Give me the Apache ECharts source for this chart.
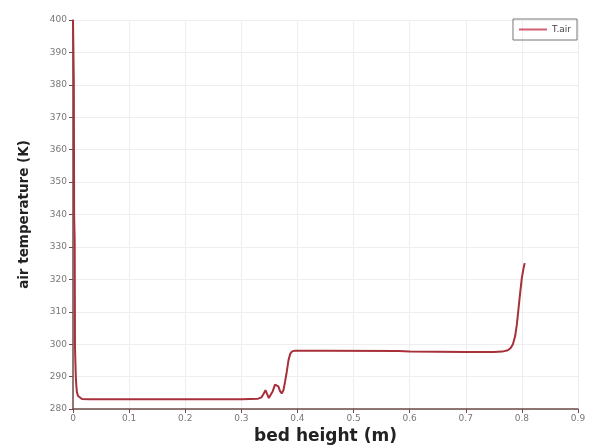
<!DOCTYPE html>
<html><head><meta charset="utf-8">
<script src="https://cdn.jsdelivr.net/npm/echarts@6/dist/echarts.min.js"></script>
<style>html,body{margin:0;padding:0;background:#fff}#c{width:592px;height:445px}</style>
</head><body><div id="c"></div>
<script>
const seriesName = 'T.air';
const bedHeight = [0, 0.0015, 0.002, 0.003, 0.0035, 0.004, 0.0045, 0.005, 0.006, 0.007, 0.009, 0.012, 0.016, 0.03, 0.1, 0.2, 0.3, 0.33, 0.336, 0.340, 0.343, 0.346, 0.349, 0.352, 0.356, 0.360, 0.363, 0.366, 0.369, 0.372, 0.375, 0.378, 0.381, 0.384, 0.387, 0.390, 0.395, 0.45, 0.58, 0.6, 0.7, 0.75, 0.765, 0.775, 0.780, 0.784, 0.788, 0.791, 0.794, 0.797, 0.800, 0.803, 0.805];
const airTemp = [400, 380, 340, 332, 300, 296, 293, 290, 287, 285.2, 284, 283.4, 283.1, 283, 283, 283, 283, 283.2, 283.6, 284.8, 285.8, 284.6, 283.4, 283.6, 285.5, 287.5, 288, 287, 285.5, 284.8, 285.8, 288.5, 291.5, 295, 297, 297.7, 298, 298, 297.9, 297.7, 297.6, 297.6, 297.7, 298.1, 298.8, 300, 302.5, 306, 311, 316, 320.5, 323.5, 325];
const xTicks = ['0', '0.1', '0.2', '0.3', '0.4', '0.5', '0.6', '0.7', '0.8', '0.9'];
const yTicks = ['280', '290', '300', '310', '320', '330', '340', '350', '360', '370', '380', '390', '400'];

const chart = echarts.init(document.getElementById('c'), null, {renderer: 'canvas'});
const font = "'DejaVu Sans', sans-serif";
chart.setOption({
  animation: false,
  grid: {left: 73, right: 14, top: 20, bottom: 36, outerBoundsMode: 'none', containLabel: false},
  legend: {
    data: [{name: seriesName, icon: 'rect'}], right: 15, top: 19,
    borderColor: '#777', borderWidth: 1, padding: [6, 6], borderRadius: 0,
    itemWidth: 28, itemHeight: 2, itemGap: 4,
    textStyle: {fontFamily: font, fontSize: 9, color: '#444'}
  },
  xAxis: {
    type: 'value', min: 0, max: 0.9, interval: 0.1,
    name: 'bed height (m)', nameLocation: 'middle', nameGap: 13,
    nameTextStyle: {fontFamily: font, fontSize: 17, fontWeight: 'bold', color: '#222'},
    axisLine: {show: true, lineStyle: {color: '#6e4a4a', width: 1.5}},
    axisTick: {show: true, length: 4, lineStyle: {color: '#6e4a4a'}},
    axisLabel: {fontFamily: font, fontSize: 9, color: '#777', margin: 5,
      formatter: v => xTicks[Math.round(v * 10)] ?? ''},
    splitLine: {show: true, lineStyle: {color: '#eeeeee'}}
  },
  yAxis: {
    type: 'value', min: 280, max: 400, interval: 10,
    name: 'air temperature (K)', nameLocation: 'middle', nameGap: 42,
    nameTextStyle: {fontFamily: font, fontSize: 13.5, fontWeight: 'bold', color: '#222'},
    axisLine: {show: true, lineStyle: {color: '#6e4a4a', width: 1.5}},
    axisTick: {show: true, length: 4, lineStyle: {color: '#6e4a4a'}},
    axisLabel: {fontFamily: font, fontSize: 9, color: '#777', margin: 6,
      formatter: v => yTicks[Math.round((v - 280) / 10)] ?? ''},
    splitLine: {show: true, lineStyle: {color: '#eeeeee'}}
  },
  series: [{
    name: seriesName, type: 'line', showSymbol: false, smooth: false,
    data: bedHeight.map((x, i) => [x, airTemp[i]]),
    lineStyle: {color: '#a8303a', width: 2},
    itemStyle: {color: '#d06070'}
  }]
});
</script></body></html>
